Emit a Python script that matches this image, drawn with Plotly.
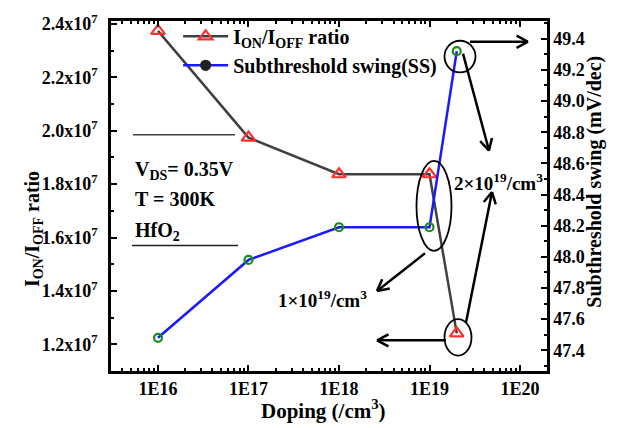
import math
import plotly.graph_objects as go

# ---- data -------------------------------------------------------------
doping = [1e16, 1e17, 1e18, 1e19, 2e19]
ion_ioff = [2.374e7, 1.974e7, 1.837e7, 1.837e7, 1.241e7]
ss_mv_dec = [47.48, 47.98, 48.19, 48.19, 49.32]

x_tickvals = [1e16, 1e17, 1e18, 1e19, 1e20]
x_ticktext = ["1E16", "1E17", "1E18", "1E19", "1E20"]
left_tickvals = [1.2e7, 1.4e7, 1.6e7, 1.8e7, 2.0e7, 2.2e7, 2.4e7]
left_ticktext = ["1.2x10<sup>7</sup>", "1.4x10<sup>7</sup>", "1.6x10<sup>7</sup>",
                 "1.8x10<sup>7</sup>", "2.0x10<sup>7</sup>", "2.2x10<sup>7</sup>",
                 "2.4x10<sup>7</sup>"]
right_tickvals = [47.4, 47.6, 47.8, 48.0, 48.2, 48.4, 48.6, 48.8, 49.0, 49.2, 49.4]
right_ticktext = ["%.1f" % v for v in right_tickvals]

# ---- layout geometry (pixels) ------------------------------------------
FIG_W, FIG_H = 621, 428
L, R, T, B = 111, 547, 17, 371
PW, PH = R - L, B - T

FONT = "Liberation Serif"


def paper(px, py):
    return (px - L) / PW, (B - py) / PH


fig = go.Figure()

# data traces
fig.add_trace(go.Scatter(
    x=doping, y=ion_ioff, mode="lines+markers", showlegend=False,
    line=dict(color="#404040", width=2.5),
    marker=dict(symbol="triangle-up-open", size=12, color="#ff3030",
                line=dict(width=2.2, color="#ff3030")),
    yaxis="y"))
fig.add_trace(go.Scatter(
    x=doping, y=ss_mv_dec, mode="lines+markers", showlegend=False,
    line=dict(color="#1a1aff", width=2.5),
    marker=dict(symbol="circle-open", size=8, color="#1e8a1e",
                line=dict(width=2.2, color="#1e8a1e")),
    yaxis="y2"))

# legend entries
fig.add_trace(go.Scatter(
    x=[None], y=[None], mode="lines+markers",
    name="I<sub>ON</sub>/I<sub>OFF</sub> ratio",
    line=dict(color="#404040", width=2.5),
    marker=dict(symbol="triangle-up-open", size=12, color="#ff3030",
                line=dict(width=2.2, color="#ff3030"))))
fig.add_trace(go.Scatter(
    x=[None], y=[None], mode="lines+markers",
    name="Subthreshold swing(SS)",
    line=dict(color="#1a1aff", width=2.5),
    marker=dict(symbol="circle-dot", size=9, color="#222222",
                line=dict(width=2.2, color="#222222"))))

shapes = []
annotations = []


def add_line(p0, p1, color="black", width=2.5):
    x0, y0 = paper(*p0)
    x1, y1 = paper(*p1)
    shapes.append(dict(type="line", xref="paper", yref="paper",
                       x0=x0, y0=y0, x1=x1, y1=y1,
                       line=dict(color=color, width=width)))


def add_arrow(tail, head, size=13, half_angle=28):
    add_line(tail, head)
    ang = math.atan2(tail[1] - head[1], tail[0] - head[0])
    for s in (-1, 1):
        a = ang + s * math.radians(half_angle)
        add_line(head, (head[0] + size * math.cos(a), head[1] + size * math.sin(a)))


def add_ellipse(cx, cy, rx, ry):
    x0, y0 = paper(cx - rx, cy + ry)
    x1, y1 = paper(cx + rx, cy - ry)
    shapes.append(dict(type="circle", xref="paper", yref="paper",
                       x0=x0, y0=y0, x1=x1, y1=y1,
                       line=dict(color="black", width=1.8)))


def add_text(txt, px, py, xanchor="center", size=20):
    x, y = paper(px, py)
    annotations.append(dict(text=txt, x=x, y=y, xref="paper", yref="paper",
                            xanchor=xanchor, yanchor="middle", showarrow=False,
                            font=dict(family=FONT, size=size, color="black",
                                      weight="bold")))


# highlight ellipses
add_ellipse(460, 53, 15.5, 16)
add_ellipse(434, 204, 17.5, 45.5)
add_ellipse(458, 337, 13.5, 18.5)

# arrows
add_arrow((470, 38), (528, 38))
add_arrow((463, 50), (489, 148))
add_arrow((466, 322), (492, 190))
add_arrow((446, 340), (377, 340))
add_arrow((425, 252), (377, 290))

# thin rules
add_line((133, 132), (235, 132), color="#404040", width=1.5)
add_line((132, 244), (238, 244), color="#202020", width=1.5)

# labels
add_text("2×10<sup>19</sup>/cm<sup>3</sup>", 498, 180, size=19)
add_text("1×10<sup>19</sup>/cm<sup>3</sup>", 322, 298, size=19)
add_text("V<sub>DS</sub>= 0.35V", 133, 168, xanchor="left")
add_text("T = 300K", 133, 197, xanchor="left")
add_text("HfO<sub>2</sub>", 133, 230, xanchor="left")

# axis titles
xt, yt = paper(323, 410)
annotations.append(dict(text="Doping (/cm<sup>3</sup>)", x=xt, y=yt, xref="paper", yref="paper",
                        showarrow=False, yanchor="middle",
                        font=dict(family=FONT, size=21, weight="bold")))
xt, yt = paper(19, 228)
annotations.append(dict(text="I<sub>ON</sub>/I<sub>OFF</sub> ratio", x=xt, y=yt,
                        xref="paper", yref="paper", showarrow=False, textangle=-90,
                        font=dict(family=FONT, size=20, weight="bold")))
xt, yt = paper(608, 180)
annotations.append(dict(text="Subthreshold swing (mV/dec)", x=xt, y=yt,
                        xref="paper", yref="paper", showarrow=False, textangle=-90,
                        font=dict(family=FONT, size=20, weight="bold")))

ytickfont = dict(family=FONT, size=18, color="black", weight="bold")
xtickfont = dict(family=FONT, size=18, color="black", weight="bold")

fig.update_layout(
    width=FIG_W, height=FIG_H,
    margin=dict(l=L, r=FIG_W - R, t=T, b=FIG_H - B, pad=0),
    paper_bgcolor="white", plot_bgcolor="white",
    font=dict(family=FONT, color="black"),
    showlegend=True,
    legend=dict(x=0.154, y=1.012, xanchor="left", yanchor="top",
                bgcolor="rgba(0,0,0,0)", borderwidth=0,
                font=dict(family=FONT, size=20, color="black", weight="bold"),
                tracegroupgap=0, itemwidth=45),
    xaxis=dict(type="log", range=[15.481, 20.298],
               tickmode="array", tickvals=x_tickvals, ticktext=x_ticktext,
               ticks="inside", ticklen=6, tickwidth=1.8, tickcolor="black",
               minor=dict(ticks="inside", ticklen=3, tickwidth=1.5, dtick="D1",
                          tickcolor="black", showgrid=False),
               showline=True, linecolor="black", linewidth=2.5, mirror="ticks",
               showgrid=False, zeroline=False, tickfont=xtickfont),
    yaxis=dict(range=[1.1e7, 2.411e7],
               tickmode="array", tickvals=left_tickvals, ticktext=left_ticktext,
               ticks="inside", ticklen=6, tickwidth=1.8, tickcolor="black",
               minor=dict(ticks="inside", ticklen=3, tickwidth=1.5, dtick=1e6,
                          tickcolor="black", showgrid=False),
               showline=True, linecolor="black", linewidth=2.5,
               ticklabelstandoff=7,
               showgrid=False, zeroline=False, tickfont=ytickfont),
    yaxis2=dict(range=[47.267, 49.514], overlaying="y", side="right",
                tickmode="array", tickvals=right_tickvals, ticktext=right_ticktext,
                ticks="inside", ticklen=6, tickwidth=1.8, tickcolor="black",
                minor=dict(ticks="inside", ticklen=3, tickwidth=1.5, dtick=0.1,
                           tickcolor="black", showgrid=False),
                showline=True, linecolor="black", linewidth=2.5,
                showgrid=False, zeroline=False, tickfont=ytickfont),
    shapes=shapes,
    annotations=annotations,
)

fig.write_html("out.html")
